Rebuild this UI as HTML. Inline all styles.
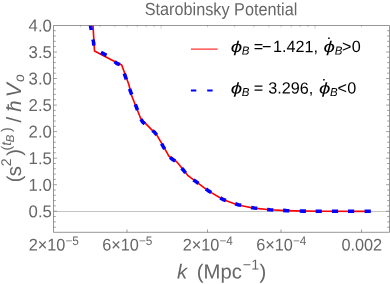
<!DOCTYPE html>
<html lang="en">
<head>
<meta charset="utf-8">
<title>Starobinsky Potential</title>
<style>
html,body{margin:0;padding:0;background:#fff;}
body{width:390px;height:284px;overflow:hidden;}
svg{display:block;font-family:"Liberation Sans",Arial,Helvetica,sans-serif;text-rendering:geometricPrecision;}
.tick text{font-size:16.3px;fill:#666;}
</style>
</head>
<body>
<svg width="390" height="284" viewBox="0 0 390 284">
<rect x="0" y="0" width="390" height="284" fill="#fff"/>
<defs><clipPath id="pc"><rect x="53.5" y="25.5" width="336.0" height="206.8"/></clipPath></defs>
<!-- grid line at 0.5 -->
<line x1="53.5" y1="211.5" x2="389.5" y2="211.5" stroke="#c4c4c4" stroke-width="1"/>
<!-- curves -->
<g clip-path="url(#pc)" fill="none">
<path d="M92.9 24.0 L93.0 25.6 L94.5 51.0 L116.5 62.6 L121.7 65.0 L129.0 85.0 L131.0 94.0 L140.6 118.3 L156.7 134.8 L164.3 147.8 L169.0 156.3 L176.7 161.7 L183.7 170.2 L188.3 175.9 L196.0 181.6 L208.3 190.9 L223.0 199.5 L237.7 204.9 L244.3 206.3 L253.6 208.1 L269.9 209.8 L286.2 210.6 L295.0 210.9 L320.0 211.2 L370.0 211.3" stroke="#f00" stroke-width="1.65" stroke-linejoin="round"/>
<path d="M90.3 24.0 L90.3 24.0 L90.8 27.5 L91.3 30.0 M93.0 39.5 L93.6 42.5 L93.9 45.6 M101.0 52.4 L106.5 55.3 M114.6 61.6 L117.0 63.5 L119.9 64.7 M124.3 73.5 L125.3 76.4 L126.3 79.3 M129.6 88.8 L130.6 91.7 L131.7 94.6 M135.3 104.3 L136.4 107.2 L137.5 110.1 M141.0 119.2 L142.5 121.9 L144.8 123.9 M152.5 130.5 L154.8 132.5 L156.7 135.0 M161.6 143.7 L163.1 146.4 L164.7 149.1 M170.1 157.4 L172.5 159.4 L175.2 161.0 M181.7 168.1 L183.7 170.5 L185.6 173.0 M193.4 179.9 L196.0 181.6 L198.5 183.5 M206.0 189.0 L208.5 190.9 L211.2 192.5 M220.3 197.9 L223.0 199.5 L225.9 200.5 M235.2 203.7 L238.1 204.7 L241.1 205.3 M251.1 207.4 L254.1 208.0 L257.2 208.3 M267.1 209.5 L270.2 209.8 L273.3 210.0 M283.1 210.4 L286.2 210.6 L289.3 210.7 M299.7 211.0 L302.8 211.1 L305.9 211.1 M315.6 211.2 L318.7 211.2 L321.8 211.2 M331.9 211.2 L335.0 211.2 L338.1 211.2 M348.0 211.2 L351.1 211.2 L354.2 211.2 M364.6 211.2 L367.7 211.2 L370.8 211.2" stroke="#00f" stroke-width="3.6" stroke-linejoin="round"/>
</g>
<!-- frame -->
<g stroke="#777" stroke-width="0.7" fill="none">
<line x1="53.5" y1="227.2" x2="55.8" y2="227.2"/>
<line x1="389.5" y1="227.2" x2="387.2" y2="227.2"/>
<line x1="53.5" y1="221.9" x2="55.8" y2="221.9"/>
<line x1="389.5" y1="221.9" x2="387.2" y2="221.9"/>
<line x1="53.5" y1="216.6" x2="55.8" y2="216.6"/>
<line x1="389.5" y1="216.6" x2="387.2" y2="216.6"/>
<line x1="53.5" y1="211.2" x2="56.9" y2="211.2"/>
<line x1="389.5" y1="211.2" x2="386.1" y2="211.2"/>
<line x1="53.5" y1="205.9" x2="55.8" y2="205.9"/>
<line x1="389.5" y1="205.9" x2="387.2" y2="205.9"/>
<line x1="53.5" y1="200.6" x2="55.8" y2="200.6"/>
<line x1="389.5" y1="200.6" x2="387.2" y2="200.6"/>
<line x1="53.5" y1="195.3" x2="55.8" y2="195.3"/>
<line x1="389.5" y1="195.3" x2="387.2" y2="195.3"/>
<line x1="53.5" y1="190.0" x2="55.8" y2="190.0"/>
<line x1="389.5" y1="190.0" x2="387.2" y2="190.0"/>
<line x1="53.5" y1="184.7" x2="56.9" y2="184.7"/>
<line x1="389.5" y1="184.7" x2="386.1" y2="184.7"/>
<line x1="53.5" y1="179.4" x2="55.8" y2="179.4"/>
<line x1="389.5" y1="179.4" x2="387.2" y2="179.4"/>
<line x1="53.5" y1="174.1" x2="55.8" y2="174.1"/>
<line x1="389.5" y1="174.1" x2="387.2" y2="174.1"/>
<line x1="53.5" y1="168.8" x2="55.8" y2="168.8"/>
<line x1="389.5" y1="168.8" x2="387.2" y2="168.8"/>
<line x1="53.5" y1="163.5" x2="55.8" y2="163.5"/>
<line x1="389.5" y1="163.5" x2="387.2" y2="163.5"/>
<line x1="53.5" y1="158.2" x2="56.9" y2="158.2"/>
<line x1="389.5" y1="158.2" x2="386.1" y2="158.2"/>
<line x1="53.5" y1="152.8" x2="55.8" y2="152.8"/>
<line x1="389.5" y1="152.8" x2="387.2" y2="152.8"/>
<line x1="53.5" y1="147.5" x2="55.8" y2="147.5"/>
<line x1="389.5" y1="147.5" x2="387.2" y2="147.5"/>
<line x1="53.5" y1="142.2" x2="55.8" y2="142.2"/>
<line x1="389.5" y1="142.2" x2="387.2" y2="142.2"/>
<line x1="53.5" y1="136.9" x2="55.8" y2="136.9"/>
<line x1="389.5" y1="136.9" x2="387.2" y2="136.9"/>
<line x1="53.5" y1="131.6" x2="56.9" y2="131.6"/>
<line x1="389.5" y1="131.6" x2="386.1" y2="131.6"/>
<line x1="53.5" y1="126.3" x2="55.8" y2="126.3"/>
<line x1="389.5" y1="126.3" x2="387.2" y2="126.3"/>
<line x1="53.5" y1="121.0" x2="55.8" y2="121.0"/>
<line x1="389.5" y1="121.0" x2="387.2" y2="121.0"/>
<line x1="53.5" y1="115.7" x2="55.8" y2="115.7"/>
<line x1="389.5" y1="115.7" x2="387.2" y2="115.7"/>
<line x1="53.5" y1="110.4" x2="55.8" y2="110.4"/>
<line x1="389.5" y1="110.4" x2="387.2" y2="110.4"/>
<line x1="53.5" y1="105.1" x2="56.9" y2="105.1"/>
<line x1="389.5" y1="105.1" x2="386.1" y2="105.1"/>
<line x1="53.5" y1="99.7" x2="55.8" y2="99.7"/>
<line x1="389.5" y1="99.7" x2="387.2" y2="99.7"/>
<line x1="53.5" y1="94.4" x2="55.8" y2="94.4"/>
<line x1="389.5" y1="94.4" x2="387.2" y2="94.4"/>
<line x1="53.5" y1="89.1" x2="55.8" y2="89.1"/>
<line x1="389.5" y1="89.1" x2="387.2" y2="89.1"/>
<line x1="53.5" y1="83.8" x2="55.8" y2="83.8"/>
<line x1="389.5" y1="83.8" x2="387.2" y2="83.8"/>
<line x1="53.5" y1="78.5" x2="56.9" y2="78.5"/>
<line x1="389.5" y1="78.5" x2="386.1" y2="78.5"/>
<line x1="53.5" y1="73.2" x2="55.8" y2="73.2"/>
<line x1="389.5" y1="73.2" x2="387.2" y2="73.2"/>
<line x1="53.5" y1="67.9" x2="55.8" y2="67.9"/>
<line x1="389.5" y1="67.9" x2="387.2" y2="67.9"/>
<line x1="53.5" y1="62.6" x2="55.8" y2="62.6"/>
<line x1="389.5" y1="62.6" x2="387.2" y2="62.6"/>
<line x1="53.5" y1="57.3" x2="55.8" y2="57.3"/>
<line x1="389.5" y1="57.3" x2="387.2" y2="57.3"/>
<line x1="53.5" y1="52.0" x2="56.9" y2="52.0"/>
<line x1="389.5" y1="52.0" x2="386.1" y2="52.0"/>
<line x1="53.5" y1="46.6" x2="55.8" y2="46.6"/>
<line x1="389.5" y1="46.6" x2="387.2" y2="46.6"/>
<line x1="53.5" y1="41.3" x2="55.8" y2="41.3"/>
<line x1="389.5" y1="41.3" x2="387.2" y2="41.3"/>
<line x1="53.5" y1="36.0" x2="55.8" y2="36.0"/>
<line x1="389.5" y1="36.0" x2="387.2" y2="36.0"/>
<line x1="53.5" y1="30.7" x2="55.8" y2="30.7"/>
<line x1="389.5" y1="30.7" x2="387.2" y2="30.7"/>
<line x1="127.0" y1="232.3" x2="127.0" y2="229.5"/>
<line x1="207.5" y1="232.3" x2="207.5" y2="229.5"/>
<line x1="281.0" y1="232.3" x2="281.0" y2="229.5"/>
<line x1="361.5" y1="232.3" x2="361.5" y2="229.5"/>
</g>
<g stroke="#999" stroke-width="0.5" fill="none">
<line x1="80.6" y1="25.5" x2="80.6" y2="27.3"/>
<line x1="99.9" y1="25.5" x2="99.9" y2="27.3"/>
<line x1="114.8" y1="25.5" x2="114.8" y2="27.3"/>
<line x1="127.0" y1="25.5" x2="127.0" y2="27.3"/>
<line x1="137.3" y1="25.5" x2="137.3" y2="27.3"/>
<line x1="146.2" y1="25.5" x2="146.2" y2="27.3"/>
<line x1="154.1" y1="25.5" x2="154.1" y2="27.3"/>
<line x1="161.1" y1="25.5" x2="161.1" y2="28.5"/>
<line x1="207.5" y1="25.5" x2="207.5" y2="27.3"/>
<line x1="234.6" y1="25.5" x2="234.6" y2="27.3"/>
<line x1="253.9" y1="25.5" x2="253.9" y2="27.3"/>
<line x1="268.8" y1="25.5" x2="268.8" y2="27.3"/>
<line x1="281.0" y1="25.5" x2="281.0" y2="27.3"/>
<line x1="291.3" y1="25.5" x2="291.3" y2="27.3"/>
<line x1="300.2" y1="25.5" x2="300.2" y2="27.3"/>
<line x1="308.1" y1="25.5" x2="308.1" y2="27.3"/>
<line x1="315.1" y1="25.5" x2="315.1" y2="28.5"/>
<line x1="361.5" y1="25.5" x2="361.5" y2="27.3"/>
</g>
<path d="M53.5 25.5 H389.5 V232.3 H53.5 Z" fill="none" stroke="#666" stroke-width="0.68"/>
<!-- tick labels -->
<g class="tick">
<text transform="translate(51.9 31.39) rotate(0.05) scale(1 1.02)" text-anchor="end" style="font-size:16.8px">4.0</text>
<text transform="translate(51.9 57.94) rotate(0.05) scale(1 1.02)" text-anchor="end" style="font-size:16.8px">3.5</text>
<text transform="translate(51.9 84.49) rotate(0.05) scale(1 1.02)" text-anchor="end" style="font-size:16.8px">3.0</text>
<text transform="translate(51.9 111.04) rotate(0.05) scale(1 1.02)" text-anchor="end" style="font-size:16.8px">2.5</text>
<text transform="translate(51.9 137.59) rotate(0.05) scale(1 1.02)" text-anchor="end" style="font-size:16.8px">2.0</text>
<text transform="translate(51.9 164.14) rotate(0.05) scale(1 1.02)" text-anchor="end" style="font-size:16.8px">1.5</text>
<text transform="translate(51.9 190.69) rotate(0.05) scale(1 1.02)" text-anchor="end" style="font-size:16.8px">1.0</text>
<text transform="translate(51.9 217.24) rotate(0.05) scale(1 1.02)" text-anchor="end" style="font-size:16.8px">0.5</text>
<text transform="translate(53.80 250.5) rotate(0.05) scale(1 1.04)" text-anchor="middle">2×10<tspan font-size="11.8" dy="-5.3">−5</tspan></text>
<text transform="translate(127.28 250.5) rotate(0.05) scale(1 1.04)" text-anchor="middle">6×10<tspan font-size="11.8" dy="-5.3">−5</tspan></text>
<text transform="translate(207.80 250.5) rotate(0.05) scale(1 1.04)" text-anchor="middle">2×10<tspan font-size="11.8" dy="-5.3">−4</tspan></text>
<text transform="translate(281.28 250.5) rotate(0.05) scale(1 1.04)" text-anchor="middle">6×10<tspan font-size="11.8" dy="-5.3">−4</tspan></text>
<text transform="translate(361.80 250.5) rotate(0.05) scale(1 1.04)" text-anchor="middle">0.002</text>
</g>
<!-- title -->
<text transform="translate(221.0 15.15) rotate(0.05) scale(1 1.08)" text-anchor="middle" font-size="16.25" fill="#666">Starobinsky Potential</text>
<!-- x label -->
<g fill="#666">
<text transform="translate(177.06 278.40) rotate(0.05)" font-size="20.3" font-style="italic">k</text>
<text transform="translate(196.74 278.40) rotate(0.05)" font-size="20.3">(Mpc</text>
<text transform="translate(242.79 269.60) rotate(0.05)" font-size="14.3">−1</text>
<text transform="translate(259.48 278.40) rotate(0.05)" font-size="20.3">)</text>
</g>
<!-- y label -->
<g fill="#666">
<text transform="translate(20.90 182.24) rotate(-90)" font-size="20">(</text>
<text transform="translate(20.90 176.17) rotate(-90)" font-size="20.5">s</text>
<text transform="translate(11.20 166.20) rotate(-90)" font-size="14">2</text>
<text transform="translate(20.90 155.72) rotate(-90)" font-size="20">)</text>
<text transform="translate(11.10 150.47) rotate(-90)" font-size="14">(</text>
<text transform="translate(11.10 145.64) rotate(-90)" font-size="14" font-style="italic">t</text>
<text transform="translate(14.00 142.15) rotate(-90)" font-size="11.4" font-style="italic">B</text>
<text transform="translate(11.10 131.88) rotate(-90)" font-size="14">)</text>
<text transform="translate(20.90 122.60) rotate(-90)" font-size="20.5">/</text>
<text transform="translate(20.90 111.84) rotate(-90)" font-size="20.5" font-style="italic">ħ</text>
<text transform="translate(20.90 97.31) rotate(-90)" font-size="21" font-style="italic">V</text>
<text transform="translate(23.90 81.96) rotate(-90)" font-size="14" font-style="italic">o</text>
</g>
<!-- legend -->
<line x1="190.9" y1="49.1" x2="217.7" y2="49.1" stroke="#f00" stroke-width="1"/>
<path d="M190.9 90.5 h5.4 M207.2 90.5 h5.4" stroke="#00f" stroke-width="2.2" fill="none"/>
<g fill="#000">
<text transform="translate(230.84 51.90) rotate(0.05) scale(1.27 0.95)" font-size="16.2" font-style="italic">ϕ</text>
<text transform="translate(241.85 54.60) rotate(0.05)" font-size="11.5" font-style="italic">B</text>
<text transform="translate(253.81 52.10) rotate(0.05)" font-size="16.2">=</text>
<text transform="translate(262.10 52.10) rotate(0.05)" font-size="16.2">−</text>
<text transform="translate(273.07 52.10) rotate(0.05)" font-size="16.2">1.421,</text>
<text transform="translate(323.54 51.90) rotate(0.05) scale(1.27 0.95)" font-size="16.2" font-style="italic">ϕ</text>
<text transform="translate(326.63 50.49) rotate(0.05)" font-size="18">˙</text>
<text transform="translate(334.65 54.60) rotate(0.05)" font-size="11.5" font-style="italic">B</text>
<text transform="translate(342.03 52.10) rotate(0.05)" font-size="16.2">&gt;</text>
<text transform="translate(351.67 52.10) rotate(0.05)" font-size="16.2">0</text>
<text transform="translate(230.84 93.40) rotate(0.05) scale(1.27 0.95)" font-size="16.2" font-style="italic">ϕ</text>
<text transform="translate(241.85 96.10) rotate(0.05)" font-size="11.5" font-style="italic">B</text>
<text transform="translate(253.81 93.60) rotate(0.05)" font-size="16.2">=</text>
<text transform="translate(268.28 93.60) rotate(0.05)" font-size="16.2">3.296,</text>
<text transform="translate(318.94 93.40) rotate(0.05) scale(1.27 0.95)" font-size="16.2" font-style="italic">ϕ</text>
<text transform="translate(321.73 91.99) rotate(0.05)" font-size="18">˙</text>
<text transform="translate(329.95 96.10) rotate(0.05)" font-size="11.5" font-style="italic">B</text>
<text transform="translate(337.53 93.60) rotate(0.05)" font-size="16.2">&lt;</text>
<text transform="translate(347.17 93.60) rotate(0.05)" font-size="16.2">0</text>
</g>
</svg>
</body>
</html>
